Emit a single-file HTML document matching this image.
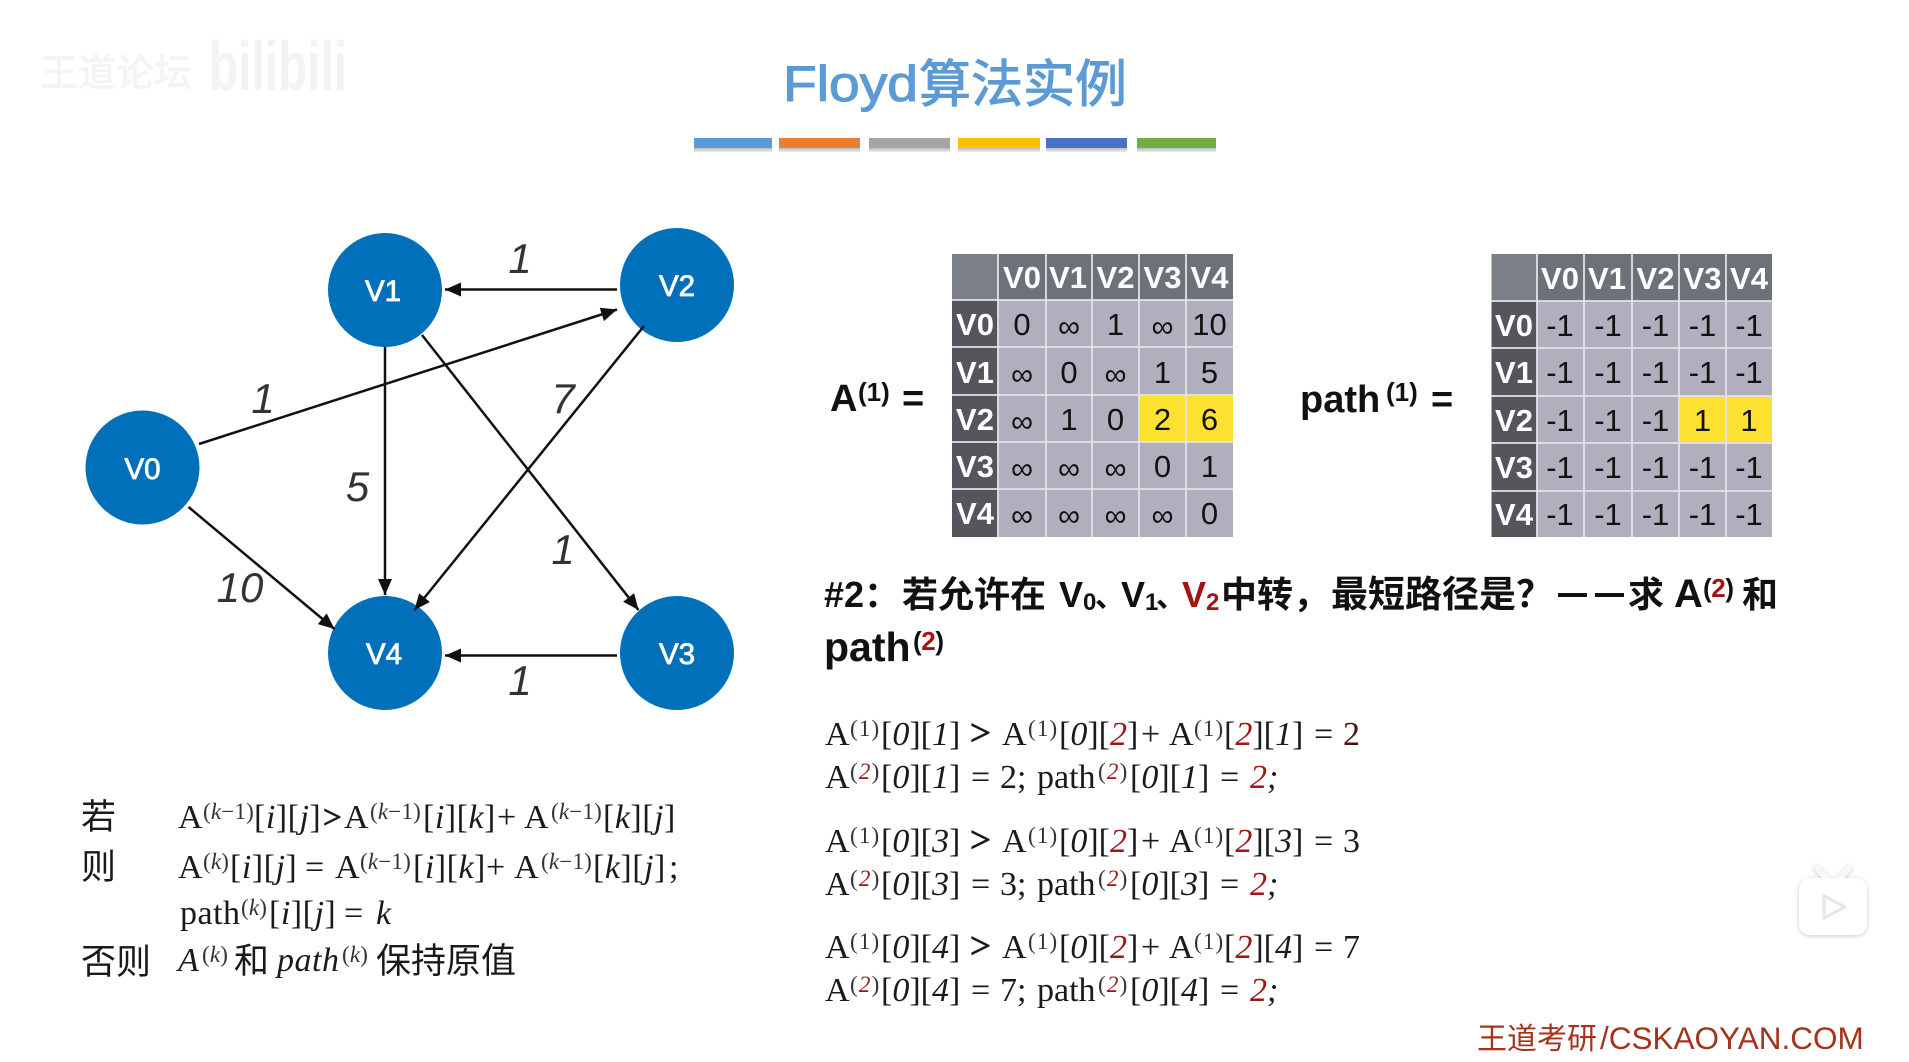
<!DOCTYPE html>
<html lang="zh"><head><meta charset="utf-8"><title>Floyd算法实例</title>
<style>
html,body{margin:0;padding:0;background:#fff;width:1909px;height:1062px;overflow:hidden}
svg{display:block}
text{white-space:pre}
.t{font-family:"Liberation Sans","Noto Sans CJK SC",sans-serif}
.n{font-family:"Liberation Sans",sans-serif;font-size:29.500px;fill:#fff;text-anchor:middle;stroke:#fff;stroke-width:.8px}
.w{font-family:"Liberation Sans",sans-serif;font-size:42px;font-style:italic;fill:#333;text-anchor:middle}
.h{font-family:"Liberation Sans",sans-serif;font-size:31px;font-weight:bold;fill:#fff;text-anchor:middle}
.c{font-family:"Liberation Sans",sans-serif;font-size:31px;fill:#111;text-anchor:middle}
.x{baseline-shift:-2px}
.l{font-family:"Liberation Sans",sans-serif;font-size:38px;font-weight:bold;fill:#111}
.s{font-family:"Liberation Sans",sans-serif;font-size:26px;font-weight:bold;fill:#111}
.q{font-family:"Liberation Sans","Noto Sans CJK SC",sans-serif;font-size:36px;font-weight:bold;fill:#111}
.f{font-family:"Liberation Serif",serif;font-size:34px;fill:#1a1a1a}
.lg{letter-spacing:.5px}
.f .i{font-style:italic}
.f .u{font-size:23px;fill:#333;letter-spacing:1.200px}
.lg .u{letter-spacing:.2px}
.f .o{fill:#9c1616}
.f .g{stroke:#1a1a1a;stroke-width:.9px;font-size:37px}
.f .g2{stroke:#1a1a1a;stroke-width:.9px;font-size:33px}
.z{font-family:"Noto Sans CJK SC",sans-serif;font-size:35px;fill:#1a1a1a}
</style></head><body>
<svg width="1909" height="1062" viewBox="0 0 1909 1062" xmlns="http://www.w3.org/2000/svg">
<defs>
<marker id="a" markerUnits="userSpaceOnUse" markerWidth="18" markerHeight="16" refX="16" refY="7" orient="auto"><path d="M0 0L16 7L0 14Z" fill="#111"/></marker>
<linearGradient id="sh" x1="0" y1="0" x2="0" y2="1"><stop offset="0" stop-color="#bbb"/><stop offset="1" stop-color="#eee"/></linearGradient>
<filter id="ds" x="-20%" y="-20%" width="140%" height="140%"><feDropShadow dx="0" dy="1" stdDeviation="2" flood-color="#000" flood-opacity=".22"/></filter>
</defs>

<!-- watermark -->
<text x="40" y="86" class="t" font-size="38" fill="#f4f4f4" stroke="#f4f4f4" stroke-width="1">王道论坛</text>
<text x="209" y="90" class="t" font-size="70" font-weight="bold" fill="#f3f3f3" textLength="138" lengthAdjust="spacingAndGlyphs">bilibili</text>

<!-- title -->
<text x="783" y="101" class="t" font-size="50" fill="#5b9bd5" stroke="#5b9bd5" stroke-width="1.100" textLength="135" lengthAdjust="spacingAndGlyphs">Floyd</text>
<text x="919" y="102" class="t" font-size="51" fill="#5b9bd5" stroke="#5b9bd5" stroke-width="1.100" textLength="208" lengthAdjust="spacingAndGlyphs">算法实例</text>

<!-- bars -->
<g>
<rect x="694" y="148" width="78" height="4" fill="url(#sh)"/><rect x="694" y="138" width="78" height="10" fill="#5b9bd5"/>
<rect x="779" y="148" width="81" height="4" fill="url(#sh)"/><rect x="779" y="138" width="81" height="10" fill="#ed7d31"/>
<rect x="869" y="148" width="81" height="4" fill="url(#sh)"/><rect x="869" y="138" width="81" height="10" fill="#a5a5a5"/>
<rect x="958" y="148" width="82" height="4" fill="url(#sh)"/><rect x="958" y="138" width="82" height="10" fill="#ffc000"/>
<rect x="1046" y="148" width="81" height="4" fill="url(#sh)"/><rect x="1046" y="138" width="81" height="10" fill="#4472c4"/>
<rect x="1137" y="148" width="79" height="4" fill="url(#sh)"/><rect x="1137" y="138" width="79" height="10" fill="#70ad47"/>
</g>

<!-- graph -->
<g fill="#0070ba">
<circle cx="142.500" cy="467.500" r="57"/>
<circle cx="385" cy="290" r="57"/>
<circle cx="677" cy="285" r="57"/>
<circle cx="677" cy="653" r="57"/>
<circle cx="385" cy="653" r="57"/>
</g>
<text x="142.500" y="479" class="n">V0</text>
<text x="383" y="301" class="n">V1</text>
<text x="677" y="296" class="n">V2</text>
<text x="677" y="664" class="n">V3</text>
<text x="384" y="664" class="n">V4</text>
<g stroke="#111" stroke-width="2.500">
<line x1="617" y1="289.500" x2="445" y2="289.500" marker-end="url(#a)"/>
<line x1="199" y1="444" x2="617" y2="309.500" marker-end="url(#a)"/>
<line x1="385" y1="347" x2="385" y2="595" marker-end="url(#a)"/>
<line x1="422" y1="335" x2="638.500" y2="610" marker-end="url(#a)"/>
<line x1="644" y1="326" x2="414.500" y2="610" marker-end="url(#a)"/>
<line x1="188.500" y1="507" x2="334.500" y2="629" marker-end="url(#a)"/>
<line x1="617" y1="655.500" x2="445" y2="655.500" marker-end="url(#a)"/>
</g>
<text x="520" y="273" class="w">1</text>
<text x="263" y="413" class="w">1</text>
<text x="563" y="413" class="w">7</text>
<text x="357.500" y="501" class="w">5</text>
<text x="563" y="564" class="w">1</text>
<text x="240" y="602" class="w">10</text>
<text x="520" y="695" class="w">1</text>

<!-- matrix A -->
<text x="830" y="411" class="l">A</text><text x="858" y="401" class="s">(1)</text><text x="902" y="411" class="l">=</text>
<g>
<rect x="952" y="254" width="281" height="283" fill="#b1afbd"/>
<rect x="998" y="254" width="235" height="46" fill="#6d7179"/>
<rect x="952" y="254" width="46" height="46" fill="#7b8087"/>
<rect x="952" y="300" width="46" height="237" fill="#55565c"/>
<rect x="1139" y="395" width="94" height="47" fill="#fce130"/>
<g stroke="#e2e2e8" stroke-width="1.800">
<line x1="998" y1="254" x2="998" y2="537"/><line x1="1046" y1="254" x2="1046" y2="537"/><line x1="1092" y1="254" x2="1092" y2="537"/><line x1="1139" y1="254" x2="1139" y2="537"/><line x1="1186" y1="254" x2="1186" y2="537"/>
<line x1="952" y1="300" x2="1233" y2="300"/><line x1="952" y1="347" x2="1233" y2="347"/><line x1="952" y1="395" x2="1233" y2="395"/><line x1="952" y1="442" x2="1233" y2="442"/><line x1="952" y1="489" x2="1233" y2="489"/>
</g>
<text y="288" class="h"><tspan x="1022">V0</tspan><tspan x="1068">V1</tspan><tspan x="1115.500">V2</tspan><tspan x="1162.500">V3</tspan><tspan x="1209.500">V4</tspan></text>
<text x="975" y="335" class="h">V0</text><text x="975" y="383" class="h">V1</text><text x="975" y="430" class="h">V2</text><text x="975" y="477" class="h">V3</text><text x="975" y="524" class="h">V4</text>
<text y="335" class="c"><tspan x="1022">0</tspan><tspan x="1069" class="x">∞</tspan><tspan x="1115.500">1</tspan><tspan x="1162.500" class="x">∞</tspan><tspan x="1209.500">10</tspan></text>
<text y="383" class="c"><tspan x="1022" class="x">∞</tspan><tspan x="1069">0</tspan><tspan x="1115.500" class="x">∞</tspan><tspan x="1162.500">1</tspan><tspan x="1209.500">5</tspan></text>
<text y="430" class="c"><tspan x="1022" class="x">∞</tspan><tspan x="1069">1</tspan><tspan x="1115.500">0</tspan><tspan x="1162.500">2</tspan><tspan x="1209.500">6</tspan></text>
<text y="477" class="c"><tspan x="1022" class="x">∞</tspan><tspan x="1069" class="x">∞</tspan><tspan x="1115.500" class="x">∞</tspan><tspan x="1162.500">0</tspan><tspan x="1209.500">1</tspan></text>
<text y="524" class="c"><tspan x="1022" class="x">∞</tspan><tspan x="1069" class="x">∞</tspan><tspan x="1115.500" class="x">∞</tspan><tspan x="1162.500" class="x">∞</tspan><tspan x="1209.500">0</tspan></text>
</g>

<!-- matrix path -->
<text x="1300" y="412" class="l">path</text><text x="1386" y="401" class="s">(1)</text><text x="1431" y="412" class="l">=</text>
<g>
<rect x="1491.500" y="254" width="280.500" height="283" fill="#b1afbd"/>
<rect x="1537" y="254" width="235" height="47" fill="#6d7179"/>
<rect x="1491.500" y="254" width="45.500" height="47" fill="#7b8087"/>
<rect x="1491.500" y="301" width="45.500" height="236" fill="#55565c"/>
<rect x="1679" y="396" width="93" height="47" fill="#fce130"/>
<g stroke="#e2e2e8" stroke-width="1.800">
<line x1="1537" y1="254" x2="1537" y2="537"/><line x1="1584" y1="254" x2="1584" y2="537"/><line x1="1632" y1="254" x2="1632" y2="537"/><line x1="1679" y1="254" x2="1679" y2="537"/><line x1="1726" y1="254" x2="1726" y2="537"/>
<line x1="1491.500" y1="301" x2="1772" y2="301"/><line x1="1491.500" y1="348" x2="1772" y2="348"/><line x1="1491.500" y1="396" x2="1772" y2="396"/><line x1="1491.500" y1="443" x2="1772" y2="443"/><line x1="1491.500" y1="491" x2="1772" y2="491"/>
</g>
<text y="289" class="h"><tspan x="1560">V0</tspan><tspan x="1607">V1</tspan><tspan x="1655.500">V2</tspan><tspan x="1702.500">V3</tspan><tspan x="1749">V4</tspan></text>
<text x="1514" y="336" class="h">V0</text><text x="1514" y="383" class="h">V1</text><text x="1514" y="431" class="h">V2</text><text x="1514" y="478" class="h">V3</text><text x="1514" y="525" class="h">V4</text>
<text y="336" class="c"><tspan x="1560">-1</tspan><tspan x="1608">-1</tspan><tspan x="1655.500">-1</tspan><tspan x="1702.500">-1</tspan><tspan x="1749">-1</tspan></text>
<text y="383" class="c"><tspan x="1560">-1</tspan><tspan x="1608">-1</tspan><tspan x="1655.500">-1</tspan><tspan x="1702.500">-1</tspan><tspan x="1749">-1</tspan></text>
<text y="431" class="c"><tspan x="1560">-1</tspan><tspan x="1608">-1</tspan><tspan x="1655.500">-1</tspan><tspan x="1702.500">1</tspan><tspan x="1749">1</tspan></text>
<text y="478" class="c"><tspan x="1560">-1</tspan><tspan x="1608">-1</tspan><tspan x="1655.500">-1</tspan><tspan x="1702.500">-1</tspan><tspan x="1749">-1</tspan></text>
<text y="525" class="c"><tspan x="1560">-1</tspan><tspan x="1608">-1</tspan><tspan x="1655.500">-1</tspan><tspan x="1702.500">-1</tspan><tspan x="1749">-1</tspan></text>
</g>

<!-- question -->
<g>
<text x="824" y="607" class="q">#2：</text>
<text x="902" y="607" class="q">若允许在</text>
<text x="1059" y="607" class="q">V<tspan font-size="24" dy="3">0</tspan></text>
<text x="1095" y="607" class="q" style="font-size:30px">、</text>
<text x="1121" y="607" class="q">V<tspan font-size="24" dy="3">1</tspan></text>
<text x="1156" y="607" class="q" style="font-size:30px">、</text>
<text x="1182" y="607" class="q" style="fill:#a01414">V<tspan font-size="24" dy="3">2</tspan></text>
<text x="1221" y="607" class="q">中转，</text>
<text x="1331" y="607" class="q" style="font-size:37px">最短路径是？</text>
<rect x="1558" y="593" width="29" height="4" fill="#111"/><rect x="1595" y="593" width="29" height="4" fill="#111"/>
<text x="1628" y="607" class="q">求</text>
<text x="1674" y="607" class="q" style="font-size:40px">A</text>
<text x="1703" y="597" class="s" textLength="31"><tspan>(</tspan><tspan style="fill:#a01414">2</tspan><tspan>)</tspan></text>
<text x="1742" y="607" class="q">和</text>
<text x="824" y="661" class="q" style="font-size:41px">path</text>
<text x="913" y="650" class="s" textLength="31"><tspan>(</tspan><tspan style="fill:#a01414">2</tspan><tspan>)</tspan></text>
</g>

<!-- computation lines -->
<text class="f" y="745"><tspan x="825">A</tspan><tspan class="u" x="850" y="736">(1)</tspan><tspan x="881" y="745">[</tspan><tspan class="i">0</tspan>][<tspan class="i">1</tspan>]<tspan x="970" class="g">&gt;</tspan><tspan x="1002">A</tspan><tspan class="u" x="1028" y="736">(1)</tspan><tspan x="1059" y="745">[</tspan><tspan class="i">0</tspan>][<tspan class="i o">2</tspan>]<tspan x="1141">+</tspan><tspan x="1169">A</tspan><tspan class="u" x="1194" y="736">(1)</tspan><tspan x="1224" y="745">[</tspan><tspan class="i o">2</tspan>][<tspan class="i">1</tspan>]<tspan x="1314">=</tspan><tspan x="1343" style="fill:#4a1414">2</tspan></text>
<text class="f" y="788"><tspan x="825">A</tspan><tspan class="u" x="850" y="779">(<tspan class="i o">2</tspan>)</tspan><tspan x="881" y="788">[</tspan><tspan class="i">0</tspan>][<tspan class="i">1</tspan>]<tspan x="971">=</tspan><tspan x="1000">2;</tspan><tspan x="1037">path</tspan><tspan class="u" x="1098" y="779">(<tspan class="i o">2</tspan>)</tspan><tspan x="1130" y="788">[</tspan><tspan class="i">0</tspan>][<tspan class="i">1</tspan>]<tspan x="1220">=</tspan><tspan x="1250" class="i o">2</tspan><tspan class="i">;</tspan></text>

<text class="f" y="852"><tspan x="825">A</tspan><tspan class="u" x="850" y="843">(1)</tspan><tspan x="881" y="852">[</tspan><tspan class="i">0</tspan>][<tspan class="i">3</tspan>]<tspan x="970" class="g">&gt;</tspan><tspan x="1002">A</tspan><tspan class="u" x="1028" y="843">(1)</tspan><tspan x="1059" y="852">[</tspan><tspan class="i">0</tspan>][<tspan class="i o">2</tspan>]<tspan x="1141">+</tspan><tspan x="1169">A</tspan><tspan class="u" x="1194" y="843">(1)</tspan><tspan x="1224" y="852">[</tspan><tspan class="i o">2</tspan>][<tspan class="i">3</tspan>]<tspan x="1314">=</tspan><tspan x="1343">3</tspan></text>
<text class="f" y="895"><tspan x="825">A</tspan><tspan class="u" x="850" y="886">(<tspan class="i o">2</tspan>)</tspan><tspan x="881" y="895">[</tspan><tspan class="i">0</tspan>][<tspan class="i">3</tspan>]<tspan x="971">=</tspan><tspan x="1000">3;</tspan><tspan x="1037">path</tspan><tspan class="u" x="1098" y="886">(<tspan class="i o">2</tspan>)</tspan><tspan x="1130" y="895">[</tspan><tspan class="i">0</tspan>][<tspan class="i">3</tspan>]<tspan x="1220">=</tspan><tspan x="1250" class="i o">2</tspan><tspan class="i">;</tspan></text>

<text class="f" y="958"><tspan x="825">A</tspan><tspan class="u" x="850" y="949">(1)</tspan><tspan x="881" y="958">[</tspan><tspan class="i">0</tspan>][<tspan class="i">4</tspan>]<tspan x="970" class="g">&gt;</tspan><tspan x="1002">A</tspan><tspan class="u" x="1028" y="949">(1)</tspan><tspan x="1059" y="958">[</tspan><tspan class="i">0</tspan>][<tspan class="i o">2</tspan>]<tspan x="1141">+</tspan><tspan x="1169">A</tspan><tspan class="u" x="1194" y="949">(1)</tspan><tspan x="1224" y="958">[</tspan><tspan class="i o">2</tspan>][<tspan class="i">4</tspan>]<tspan x="1314">=</tspan><tspan x="1343">7</tspan></text>
<text class="f" y="1001"><tspan x="825">A</tspan><tspan class="u" x="850" y="992">(<tspan class="i o">2</tspan>)</tspan><tspan x="881" y="1001">[</tspan><tspan class="i">0</tspan>][<tspan class="i">4</tspan>]<tspan x="971">=</tspan><tspan x="1000">7;</tspan><tspan x="1037">path</tspan><tspan class="u" x="1098" y="992">(<tspan class="i o">2</tspan>)</tspan><tspan x="1130" y="1001">[</tspan><tspan class="i">0</tspan>][<tspan class="i">4</tspan>]<tspan x="1220">=</tspan><tspan x="1250" class="i o">2</tspan><tspan class="i">;</tspan></text>

<!-- left rule -->
<text x="81" y="829" class="z">若</text>
<text x="81" y="879" class="z">则</text>
<text x="81" y="974" class="z">否则</text>
<text class="f lg" y="828"><tspan x="178">A</tspan><tspan class="u" x="203" y="819">(<tspan class="i">k</tspan>−1)</tspan><tspan x="254" y="828">[</tspan><tspan class="i">i</tspan>][<tspan class="i">j</tspan>]<tspan x="323" class="g2">&gt;</tspan><tspan x="344">A</tspan><tspan class="u" x="370" y="819">(<tspan class="i">k</tspan>−1)</tspan><tspan x="423" y="828">[</tspan><tspan class="i">i</tspan>][<tspan class="i">k</tspan>]<tspan x="497">+</tspan><tspan x="524">A</tspan><tspan class="u" x="551" y="819">(<tspan class="i">k</tspan>−1)</tspan><tspan x="603" y="828">[</tspan><tspan class="i">k</tspan>][<tspan class="i">j</tspan>]</text>
<text class="f lg" y="878"><tspan x="178">A</tspan><tspan class="u" x="203" y="869">(<tspan class="i">k</tspan>)</tspan><tspan x="230" y="878">[</tspan><tspan class="i">i</tspan>][<tspan class="i">j</tspan>]<tspan x="305">=</tspan><tspan x="335">A</tspan><tspan class="u" x="360" y="869">(<tspan class="i">k</tspan>−1)</tspan><tspan x="413" y="878">[</tspan><tspan class="i">i</tspan>][<tspan class="i">k</tspan>]<tspan x="486">+</tspan><tspan x="514">A</tspan><tspan class="u" x="541" y="869">(<tspan class="i">k</tspan>−1)</tspan><tspan x="593" y="878">[</tspan><tspan class="i">k</tspan>][<tspan class="i">j</tspan>]<tspan x="669">;</tspan></text>
<text class="f lg" y="924"><tspan x="180">path</tspan><tspan class="u" x="241" y="915">(<tspan class="i">k</tspan>)</tspan><tspan x="269" y="924">[</tspan><tspan class="i">i</tspan>][<tspan class="i">j</tspan>]<tspan x="344">=</tspan><tspan x="376" class="i">k</tspan></text>
<text class="f lg" y="971"><tspan x="178" class="i">A</tspan><tspan class="u" x="202" y="962">(<tspan class="i">k</tspan>)</tspan><tspan x="277" y="971" class="i">path</tspan><tspan class="u" x="342" y="962">(<tspan class="i">k</tspan>)</tspan></text>
<text x="234" y="973" class="z">和</text>
<text x="376" y="973" class="z">保持原值</text>

<!-- bilibili icon -->
<g filter="url(#ds)" fill="#fff">
<path d="M1817 868l11 12M1849 868l-11 12" stroke="#f7f7f7" stroke-width="6" stroke-linecap="round"/>
<rect x="1799" y="878" width="68" height="57" rx="11"/>
</g>
<path d="M1824 896v22l21-11z" fill="#fff" stroke="#e6e6e6" stroke-width="3" stroke-linejoin="round"/>

<!-- footer -->
<text x="1477" y="1049" class="t" font-size="30" fill="#a5321a">王道考研</text>
<text x="1600" y="1049" class="t" font-size="31.500" fill="#a5321a">/CSKAOYAN.COM</text>
</svg>
</body></html>
